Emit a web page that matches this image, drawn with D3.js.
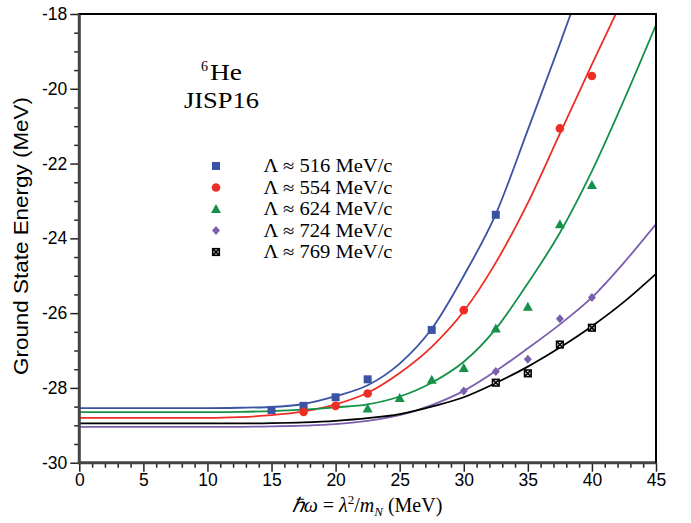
<!DOCTYPE html>
<html><head><meta charset="utf-8">
<script src="https://cdn.jsdelivr.net/npm/d3@7"></script>
<style>body{margin:0;background:#fff;} svg{display:block;}</style>
</head><body><svg id="c" width="691" height="523"></svg>
<script>
// ---- data ----
const xMajorTicks = [0,5,10,15,20,25,30,35,40,45];
const yMajorTicks = [-18,-20,-22,-24,-26,-28,-30];
const seriesNames = ["516","554","624","724","769"];
const seriesLabels = ["Λ ≈ 516 MeV/c","Λ ≈ 554 MeV/c","Λ ≈ 624 MeV/c","Λ ≈ 724 MeV/c","Λ ≈ 769 MeV/c"];
const seriesColors = ["#3b53a4","#ee2e24","#16914a","#7b5fae","#000000"];
const seriesSymbols = ["square","circle","triangle","diamond","xsquare"];

// calculated points
const pts516X = [15,17.5,20,22.5,27.5,32.5];
const pts516Y = [-28.59,-28.48,-28.25,-27.77,-26.45,-23.37];
const pts554X = [17.5,20,22.5,30,37.5,40];
const pts554Y = [-28.64,-28.48,-28.15,-25.92,-21.06,-19.66];
const pts624X = [22.5,25,27.5,30,32.5,35,37.5,40];
const pts624Y = [-28.55,-28.27,-27.78,-27.47,-26.41,-25.83,-23.62,-22.57];
const pts724X = [30,32.5,35,37.5,40];
const pts724Y = [-28.08,-27.56,-27.23,-26.15,-25.58];
const pts769X = [32.5,35,37.5,40];
const pts769Y = [-27.86,-27.61,-26.84,-26.39];

// fitted curves
const fit516X = [0,5,10,12.5,15,17.5,20,22.5,25,27.5,30,32.5,35,37.5,38.5];
const fit516Y = [-28.54,-28.54,-28.54,-28.53,-28.51,-28.43,-28.22,-27.93,-27.35,-26.42,-25.0,-23.35,-21.1,-18.8,-17.85];
const fit554X = [0,5,10,12.5,15,17.5,20,22.5,25,27.5,30,32.5,35,37.5,40,42];
const fit554Y = [-28.80,-28.80,-28.80,-28.78,-28.73,-28.63,-28.44,-28.13,-27.6,-26.9,-25.95,-24.65,-23.05,-21.2,-19.35,-17.9];
const fit624X = [0,5,10,12.5,15,17.5,20,22.5,25,27.5,30,32.5,35,37.5,40,42.5,45];
const fit624Y = [-28.65,-28.65,-28.65,-28.64,-28.62,-28.58,-28.52,-28.44,-28.23,-27.86,-27.3,-26.42,-25.2,-23.85,-22.2,-20.3,-18.29];
const fit724X = [0,5,10,12.5,15,17.5,20,22.5,25,27.5,30,32.5,35,37.5,40,42.5,45];
const fit724Y = [-29.04,-29.04,-29.04,-29.04,-29.03,-29.01,-28.97,-28.88,-28.73,-28.46,-28.08,-27.55,-26.94,-26.3,-25.58,-24.65,-23.62];
const fit769X = [0,5,10,12.5,15,17.5,20,22.5,25,27.5,30,32.5,35,37.5,40,42.5,45];
const fit769Y = [-28.95,-28.95,-28.95,-28.95,-28.94,-28.92,-28.88,-28.81,-28.7,-28.5,-28.25,-27.87,-27.43,-26.92,-26.35,-25.7,-24.95];

const ptsX = [pts516X,pts554X,pts624X,pts724X,pts769X];
const ptsY = [pts516Y,pts554Y,pts624Y,pts724Y,pts769Y];
const fitX = [fit516X,fit554X,fit624X,fit724X,fit769X];
const fitY = [fit516Y,fit554Y,fit624Y,fit724Y,fit769Y];

// ---- layout ----
const svg = d3.select("#c");
const L = 79.3, R = 656, T = 14, B = 462.7;
const x = d3.scaleLinear().domain([0,45]).range([L,R]);
const y = d3.scaleLinear().domain([-30,-18]).range([B,T]);

svg.append("defs").append("clipPath").attr("id","clip")
  .append("rect").attr("x",L).attr("y",T).attr("width",R-L).attr("height",B-T);

// fits
const line = d3.line().x(d=>x(d[0])).y(d=>y(d[1])).curve(d3.curveMonotoneX);
const gFit = svg.append("g").attr("clip-path","url(#clip)");
fitX.forEach((xs,i)=>{
  const data = xs.map((v,j)=>[v,fitY[i][j]]);
  gFit.append("path").datum(data).attr("d",line)
    .attr("fill","none").attr("stroke",seriesColors[i]).attr("stroke-width",1.8);
});

// markers
function drawSymbol(g, type, cx, cy, color){
  if(type==="square"){
    g.append("rect").attr("x",cx-4).attr("y",cy-4).attr("width",8).attr("height",8).attr("fill",color);
  } else if(type==="circle"){
    g.append("circle").attr("cx",cx).attr("cy",cy).attr("r",4.3).attr("fill",color);
  } else if(type==="triangle"){
    g.append("path").attr("d",`M${cx},${cy-5}L${cx+5},${cy+4}L${cx-5},${cy+4}Z`).attr("fill",color);
  } else if(type==="diamond"){
    g.append("path").attr("d",`M${cx},${cy-4.5}L${cx+4},${cy}L${cx},${cy+4.5}L${cx-4},${cy}Z`).attr("fill",color);
  } else if(type==="xsquare"){
    g.append("rect").attr("x",cx-3.3).attr("y",cy-3.3).attr("width",6.6).attr("height",6.6)
      .attr("fill","#fff").attr("stroke",color).attr("stroke-width",1.6);
    g.append("path").attr("d",`M${cx-2.6},${cy-2.6}L${cx+2.6},${cy+2.6}M${cx+2.6},${cy-2.6}L${cx-2.6},${cy+2.6}`)
      .attr("stroke",color).attr("stroke-width",1.6);
  }
}
const gPts = svg.append("g");
ptsX.forEach((xs,i)=>{
  xs.forEach((v,j)=>drawSymbol(gPts, seriesSymbols[i], x(v), y(ptsY[i][j]), seriesColors[i]));
});

// axes
const fmt = d=>String(d);
const gy = svg.append("g").attr("transform",`translate(${L},0)`)
  .call(d3.axisLeft(y).tickValues(yMajorTicks).tickSize(9).tickPadding(3).tickFormat(fmt));
const yMinor = d3.range(-30,-17.9,0.5).filter(v=>Math.abs(v%2)>0.01);
svg.append("g").attr("transform",`translate(${L},0)`)
  .call(d3.axisLeft(y).tickValues(yMinor).tickSize(5).tickFormat(""))
  .select(".domain").remove();
const gx = svg.append("g").attr("transform",`translate(0,${B})`)
  .call(d3.axisBottom(x).tickValues(xMajorTicks).tickSize(9).tickPadding(2).tickFormat(fmt));
const xMinor = d3.range(0,45.1,1).filter(v=>v%5!==0);
svg.append("g").attr("transform",`translate(0,${B})`)
  .call(d3.axisBottom(x).tickValues(xMinor).tickSize(5).tickFormat(""))
  .select(".domain").remove();
svg.selectAll(".tick line").attr("stroke","#222").attr("stroke-width",1.5);
[gy,gx].forEach(g=>{
  g.select(".domain").remove();
  g.selectAll("text").attr("font-family","'Liberation Sans', Arial, sans-serif").attr("font-size",17.5).attr("fill","#000");
});
// axis lines + frame
svg.append("line").attr("x1",L).attr("x2",L).attr("y1",T-1).attr("y2",B+1.5).attr("stroke","#444").attr("stroke-width",3);
svg.append("line").attr("x1",L-1.5).attr("x2",R+1).attr("y1",B).attr("y2",B).attr("stroke","#444").attr("stroke-width",3);
svg.append("line").attr("x1",L).attr("x2",R+1).attr("y1",T).attr("y2",T).attr("stroke","#000").attr("stroke-width",2);
svg.append("line").attr("x1",R).attr("x2",R).attr("y1",T).attr("y2",B).attr("stroke","#000").attr("stroke-width",2);

// axis titles
svg.append("text").attr("transform","translate(28,236) rotate(-90)")
  .attr("text-anchor","middle").attr("font-family","'Liberation Sans', Arial, sans-serif")
  .attr("font-size",20).attr("textLength",278).attr("lengthAdjust","spacingAndGlyphs")
  .text("Ground State Energy (MeV)");
const xt = svg.append("text").attr("x",367).attr("y",512).attr("text-anchor","middle")
  .attr("font-family","'Liberation Serif', 'Times New Roman', serif").attr("font-size",20);
xt.append("tspan").attr("font-style","italic").text("ℏω");
xt.append("tspan").text(" = ");
xt.append("tspan").attr("font-style","italic").text("λ");
xt.append("tspan").attr("font-size",13).attr("dy",-8).text("2");
xt.append("tspan").attr("dy",8).text("/");
xt.append("tspan").attr("font-style","italic").text("m");
xt.append("tspan").attr("font-style","italic").attr("font-size",13).attr("dy",4).text("N");
xt.append("tspan").attr("dy",-4).text(" (MeV)");

// annotation
const serif = "'Liberation Serif', 'Times New Roman', serif";
svg.append("text").attr("x",201).attr("y",71).attr("font-family",serif).attr("font-size",14).text("6");
svg.append("text").attr("x",210).attr("y",80).attr("font-family",serif).attr("font-size",24)
  .attr("textLength",32).attr("lengthAdjust","spacingAndGlyphs").text("He");
svg.append("text").attr("x",184).attr("y",108).attr("font-family",serif).attr("font-size",24)
  .attr("textLength",75).attr("lengthAdjust","spacingAndGlyphs").text("JISP16");

// legend
const legY0 = 166, legDy = 21.5;
seriesLabels.forEach((lab,i)=>{
  const cy = legY0 + i*legDy;
  drawSymbol(svg, seriesSymbols[i], 216, cy, seriesColors[i]);
  svg.append("text").attr("x",263.5).attr("y",cy+6).attr("font-family",serif).attr("font-size",18)
    .attr("textLength",129).attr("lengthAdjust","spacingAndGlyphs").text(lab);
});
</script></body></html>
